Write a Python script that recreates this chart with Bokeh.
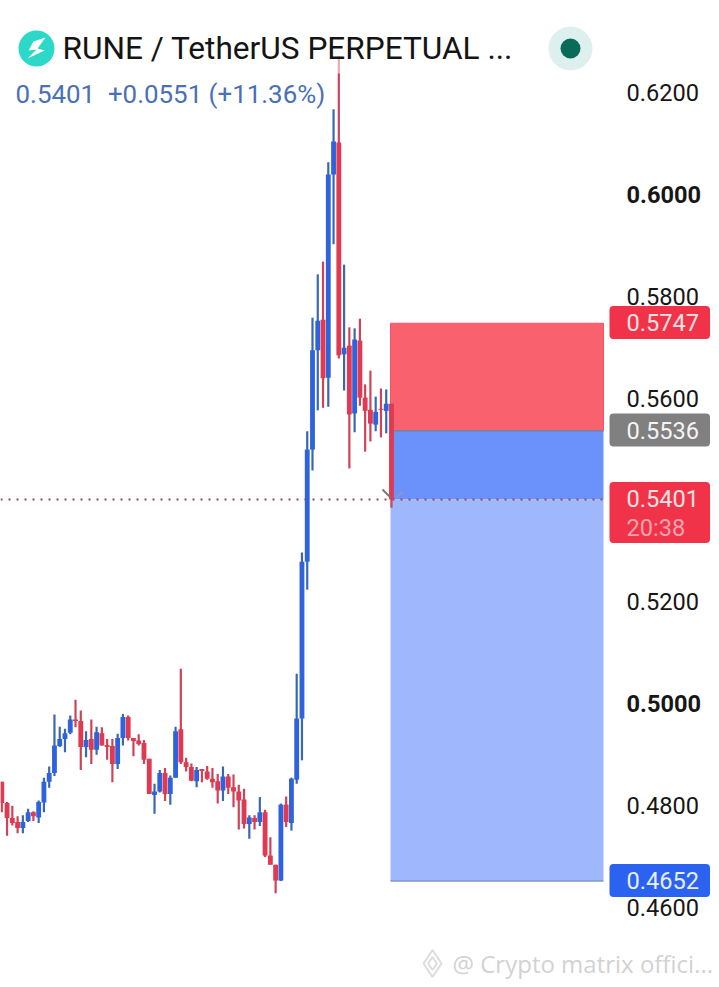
from bokeh.plotting import figure
from bokeh.models import Label, Range1d, FixedTicker, CustomJSTickFormatter, BoxAnnotation
from bokeh.embed import file_html
from bokeh.resources import INLINE

index = list(range(75))
opens = [.4847,.4805,.4776,.4768,.4756,.4770,.4787,.4777,.4806,.4847,.4864,.4917,.4931,.4943,.4969,.4966,.4915,.4931,.4910,.4942,
         .4919,.4917,.4882,.4933,.4974,.4933,.4928,.4923,.4892,.4821,.4828,.4864,.4823,.4855,.4950,.4885,.4876,.4848,.4872,.4867,
         .4853,.4848,.4830,.4857,.4836,.4828,.4812,.4764,.4776,.4768,.4787,.4702,.4684,.4653,.4802,.4766,.4851,.4971,.5279,.5499,
         .5694,.5754,.5640,.6039,.6102,.5686,.5703,.5570,.5713,.5601,.5577,.5548,.5579,.5575,.5589]
highs = [.4847,.4807,.4800,.4779,.4781,.4794,.4789,.4810,.4855,.4877,.4979,.4955,.4951,.4977,.5008,.4987,.4946,.4969,.4955,.4954,
         .4931,.4931,.4941,.4980,.4977,.4933,.4940,.4929,.4892,.4843,.4870,.4874,.4859,.4955,.5069,.4894,.4883,.4876,.4872,.4878,
         .4874,.4862,.4877,.4862,.4861,.4841,.4833,.4781,.4781,.4817,.4792,.4738,.4684,.4804,.4818,.4855,.5059,.5297,.5535,.5758,
         .5843,.5868,.6063,.6167,.6271,.5862,.5739,.5737,.5756,.5627,.5654,.5603,.5619,.5617,.5589]
lows = [.4787,.4741,.4761,.4746,.4746,.4768,.4770,.4766,.4787,.4835,.4858,.4915,.4905,.4940,.4954,.4870,.4895,.4882,.4900,.4918,
        .4890,.4846,.4872,.4918,.4928,.4897,.4918,.4882,.4823,.4784,.4826,.4809,.4802,.4855,.4882,.4867,.4848,.4836,.4846,.4851,
        .4835,.4804,.4809,.4823,.4797,.4753,.4755,.4735,.4753,.4760,.4699,.4684,.4628,.4652,.4758,.4751,.4843,.4889,.5224,.5458,
        .5576,.5581,.5583,.5902,.5678,.5615,.5462,.5533,.5585,.5495,.5515,.5535,.5523,.5531,.5385]
closes = [.4805,.4776,.4766,.4756,.4768,.4787,.4779,.4807,.4847,.4864,.4918,.4931,.4942,.4969,.4966,.4915,.4929,.4910,.4944,.4918,
          .4915,.4882,.4933,.4974,.4933,.4927,.4921,.4890,.4823,.4828,.4864,.4823,.4855,.4946,.4885,.4876,.4849,.4870,.4868,.4853,
          .4846,.4830,.4857,.4835,.4828,.4810,.4764,.4777,.4768,.4787,.4702,.4684,.4653,.4802,.4768,.4853,.4971,.5279,.5499,.5694,
          .5752,.5639,.6039,.6104,.5684,.5699,.5568,.5715,.5601,.5575,.5550,.5573,.5577,.5589,.5401]

price_ticks = [0.62, 0.60, 0.58, 0.56, 0.52, 0.50, 0.48, 0.46]
bold_ticks = [0.60, 0.50]
stop_price = 0.5747
entry_price = 0.5536
last_price = 0.5401
target_price = 0.4652
countdown = "20:38"
title_text = "RUNE / TetherUS PERPETUAL ..."
quote_text = "0.5401\u00a0\u00a0+0.0551 (+11.36%)"
watermark_text = "@ Crypto matrix offici..."

BLUE, RED = "#2f63dd", "#e03a52"
BLUE_W, RED_W = "#3a68ae", "#cc4458"

# reference-pixel helpers, used only for layout of decorations and labels
def px(x): return (x - 1.3) / 5.266
def py(y): return 0.62 - (y - 92) / 5094

W, H = 719, 987
p = figure(width=W, height=H, output_backend="svg", toolbar_location=None,
           x_range=Range1d(px(0), px(W)), y_range=Range1d(py(H), py(0)),
           y_axis_location="right", min_border=0)
p.xaxis.visible = False
p.grid.visible = False
p.outline_line_color = None
p.background_fill_color = "white"

ax = p.yaxis[0]
ax.fixed_location = px(612)
ax.ticker = FixedTicker(ticks=price_ticks)
ax.formatter = CustomJSTickFormatter(code="return (tick==0.6||tick==0.5) ? '' : tick.toFixed(4)")
ax.axis_line_color = None
ax.major_tick_line_color = None
ax.minor_tick_line_color = None
ax.major_label_standoff = 8
ax.major_label_text_font = "Roboto"
ax.major_label_text_font_size = "23.6px"
ax.major_label_text_color = "#161616"

box_l, box_r = px(390), px(603)
p.quad(left=[box_l], right=[box_r], top=[stop_price], bottom=[entry_price], fill_color="#f9616f", line_color="#ee5566", line_width=1)
p.quad(left=[box_l], right=[box_r], top=[entry_price], bottom=[last_price], fill_color="#6b92fb", line_color=None)
p.quad(left=[box_l], right=[box_r], top=[last_price], bottom=[target_price], fill_color="#9fb8fd", line_color=None)
p.segment(x0=[box_l], x1=[box_r], y0=[entry_price], y1=[entry_price], line_color="#7d7f9e", line_width=1.5)
p.segment(x0=[box_l], x1=[box_r], y0=[target_price], y1=[target_price], line_color="#7f97d0", line_width=1.5)
p.segment(x0=[px(0)], x1=[box_r], y0=[last_price], y1=[last_price], line_color="#9a4356", line_width=2, line_dash="2 6")

up = [i for i in index if closes[i] >= opens[i]]
dn = [i for i in index if closes[i] < opens[i]]
for ids, body, wick in ((up, BLUE, BLUE_W), (dn, RED, RED_W)):
    p.segment(x0=ids, x1=ids, y0=[lows[i] for i in ids], y1=[highs[i] for i in ids], line_color=wick, line_width=2.2)
for ids, body, wick in ((up, BLUE, BLUE_W), (dn, RED, RED_W)):
    p.vbar(x=ids, width=0.92, top=[max(opens[i], closes[i]) for i in ids], bottom=[min(opens[i], closes[i]) for i in ids],
           fill_color=body, line_color=None)

# small chevron at the last price
p.segment(x0=[px(382), px(396)], x1=[px(390), px(402)], y0=[py(489), py(497)], y1=[py(497), py(491)],
          line_color=["#777777", "#8a9ac0"], line_width=2)

# header band that pales the long wick
p.add_layout(BoxAnnotation(left=px(300), right=px(380), top=py(40), bottom=py(73), fill_color="white", fill_alpha=0.55, line_color=None))

# icons
p.scatter([px(36)], [py(48)], size=36, marker="circle", fill_color="#2cd9c9", line_color=None)
p.patch([px(v) for v in (45, 33, 28, 36, 27, 44, 37, 45)], [py(v) for v in (37, 41, 50, 49, 58, 50, 48, 37)], fill_color="white", line_color=None)
p.scatter([px(570)], [py(48)], size=44, marker="circle", fill_color="#ddf0ee", line_color=None)
p.scatter([px(570)], [py(48)], size=20, marker="circle", fill_color="#0b6b5b", line_color=None)
p.scatter([px(432)], [py(963)], size=27, marker="diamond", fill_color=None, line_color="#dcdcdc", line_width=2)
p.scatter([px(432)], [py(963)], size=13, marker="diamond", fill_color=None, line_color="#dcdcdc", line_width=2)

def label(t, x, y, size, color, **kw):
    font = kw.pop("font", "Roboto")
    p.add_layout(Label(x=x, y=H - y, x_units="screen", y_units="screen", text=t, text_font=font,
                       text_font_size=f"{size}px", text_color=color, text_baseline="middle", text_align="left", **kw))

def ypx(v): return 92 + (0.62 - v) * 5094

label(title_text, 62, 48, 31.6, "#141414")
label(quote_text, 15, 93, 25.9, "#4a70b8")
label(watermark_text, 452, 963, 24, "#d2d2d2", font="Open Sans")
for t in bold_ticks:
    label(f"{t:.4f}", 626, ypx(t), 23.6, "#161616", text_font_style="bold")

def tag(v, y, color, txt_color, pad=(17, 11, 8, 8)):
    label(f"{v:.4f}", 609, y, 23.6, txt_color, background_fill_color=color, padding=pad, border_radius=4)

tag(stop_price, 322, "#f1334a", "#fbe3e3")
tag(entry_price, 429.5, "#808080", "#f4f4f4")
tag(last_price, 512, "#f1334a", "#fbe3e3", pad=(17, 11, 8, 36))
tag(target_price, 880, "#2b63f0", "#e8eeff")
label(countdown, 626, 527, 23.6, "#f9a3ad")

open("out.html", "w").write(file_html(p, INLINE))
